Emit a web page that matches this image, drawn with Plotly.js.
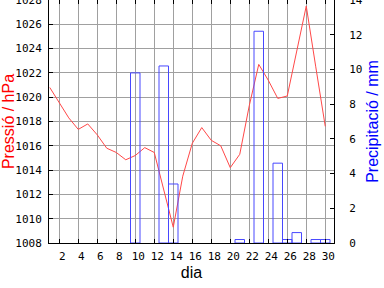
<!DOCTYPE html>
<html>
<head>
<meta charset="utf-8">
<script src="https://cdn.plot.ly/plotly-3.0.1.min.js"></script>
<style>html,body{margin:0;padding:0;background:#fff;}#chart{width:384px;height:288px;}</style>
</head>
<body>
<div id="chart"></div>
<script>
const days = [1,2,3,4,5,6,7,8,9,10,11,12,13,14,15,16,17,18,19,20,21,22,23,24,25,26,27,28,29,30];
const pressure = [1020.8,1019.5,1018.3,1017.35,1017.8,1016.9,1015.8,1015.45,1014.85,1015.2,1015.85,1015.45,1012.4,1009.3,1013.5,1016.2,1017.5,1016.45,1016.0,1014.2,1015.3,1019.3,1022.7,1021.4,1019.9,1020.1,1023.8,1027.5,1022.5,1017.6];
const precip = [0,0,0,0,0,0,0,0,0,9.8,0,0,10.2,3.4,0,0,0,0,0,0,0.2,0,12.2,0,4.6,0.2,0.6,0,0.2,0.2];
const xTicks = [2,4,6,8,10,12,14,16,18,20,22,24,26,28,30];
const pTicks = [1008,1010,1012,1014,1016,1018,1020,1022,1024,1026,1028];
const rTicks = [0,2,4,6,8,10,12,14];

const tickFont = {family:'"DejaVu Sans Mono", monospace', size:11, color:'#000'};
const titleFamily = '"Liberation Sans", Arial, sans-serif';

// only days with rain get a bar outline
const rainDays = days.filter((d, i) => precip[i] > 0);
const rainVals = precip.filter(v => v > 0);

const traces = [
  {x: rainDays, y: rainVals, type:'bar', yaxis:'y2', width:1,
   marker:{color:'rgba(0,0,0,0)', line:{color:'#4848ff', width:1}}, hoverinfo:'none'},
  {x: days, y: pressure, type:'scatter', mode:'lines', yaxis:'y',
   line:{color:'#ff4848', width:1}, hoverinfo:'none'}
];

const layout = {
  width:384, height:288,
  margin:{l:49, r:50, t:0, b:45, pad:0},
  paper_bgcolor:'#fff', plot_bgcolor:'#fff',
  showlegend:false,
  bargap:0,
  xaxis:{range:[0.92,30.92], tickmode:'array', tickvals:xTicks, ticktext:xTicks.map(String),
    ticks:'inside', ticklen:4, tickcolor:'#000', showline:true, linecolor:'#000', linewidth:1,
    mirror:'ticks', showgrid:true, gridcolor:'#a0a0a0', gridwidth:1, zeroline:false,
    tickfont:tickFont, ticklabelshift:3, ticklabelstandoff:3, ticklabeloverflow:'allow',
    title:{text:'dia', font:{family:titleFamily, size:16, color:'#000'}, standoff:4}},
  yaxis:{range:[1008,1028], tickmode:'array', tickvals:pTicks, ticktext:pTicks.map(String),
    ticks:'inside', ticklen:4, tickcolor:'#000', showline:true, linecolor:'#000', linewidth:1,
    showgrid:true, gridcolor:'#a0a0a0', gridwidth:1, zeroline:false,
    tickfont:tickFont, ticklabelstandoff:4, ticklabeloverflow:'allow',
    title:{text:'Pressió / hPa', font:{family:titleFamily, size:16, color:'#ff0000'}, standoff:0}},
  yaxis2:{range:[0,14], overlaying:'y', side:'right', tickmode:'array', tickvals:rTicks, ticktext:rTicks.map(String),
    ticks:'inside', ticklen:4, tickcolor:'#000', showline:true, linecolor:'#000', linewidth:1,
    showgrid:false, zeroline:false, tickfont:tickFont, ticklabelstandoff:12, ticklabeloverflow:'allow',
    title:{text:'Precipitació / mm', font:{family:titleFamily, size:16, color:'#0000ff'}, standoff:4}}
};

Plotly.newPlot('chart', traces, layout, {staticPlot:true, displayModeBar:false});
</script>
</body>
</html>
